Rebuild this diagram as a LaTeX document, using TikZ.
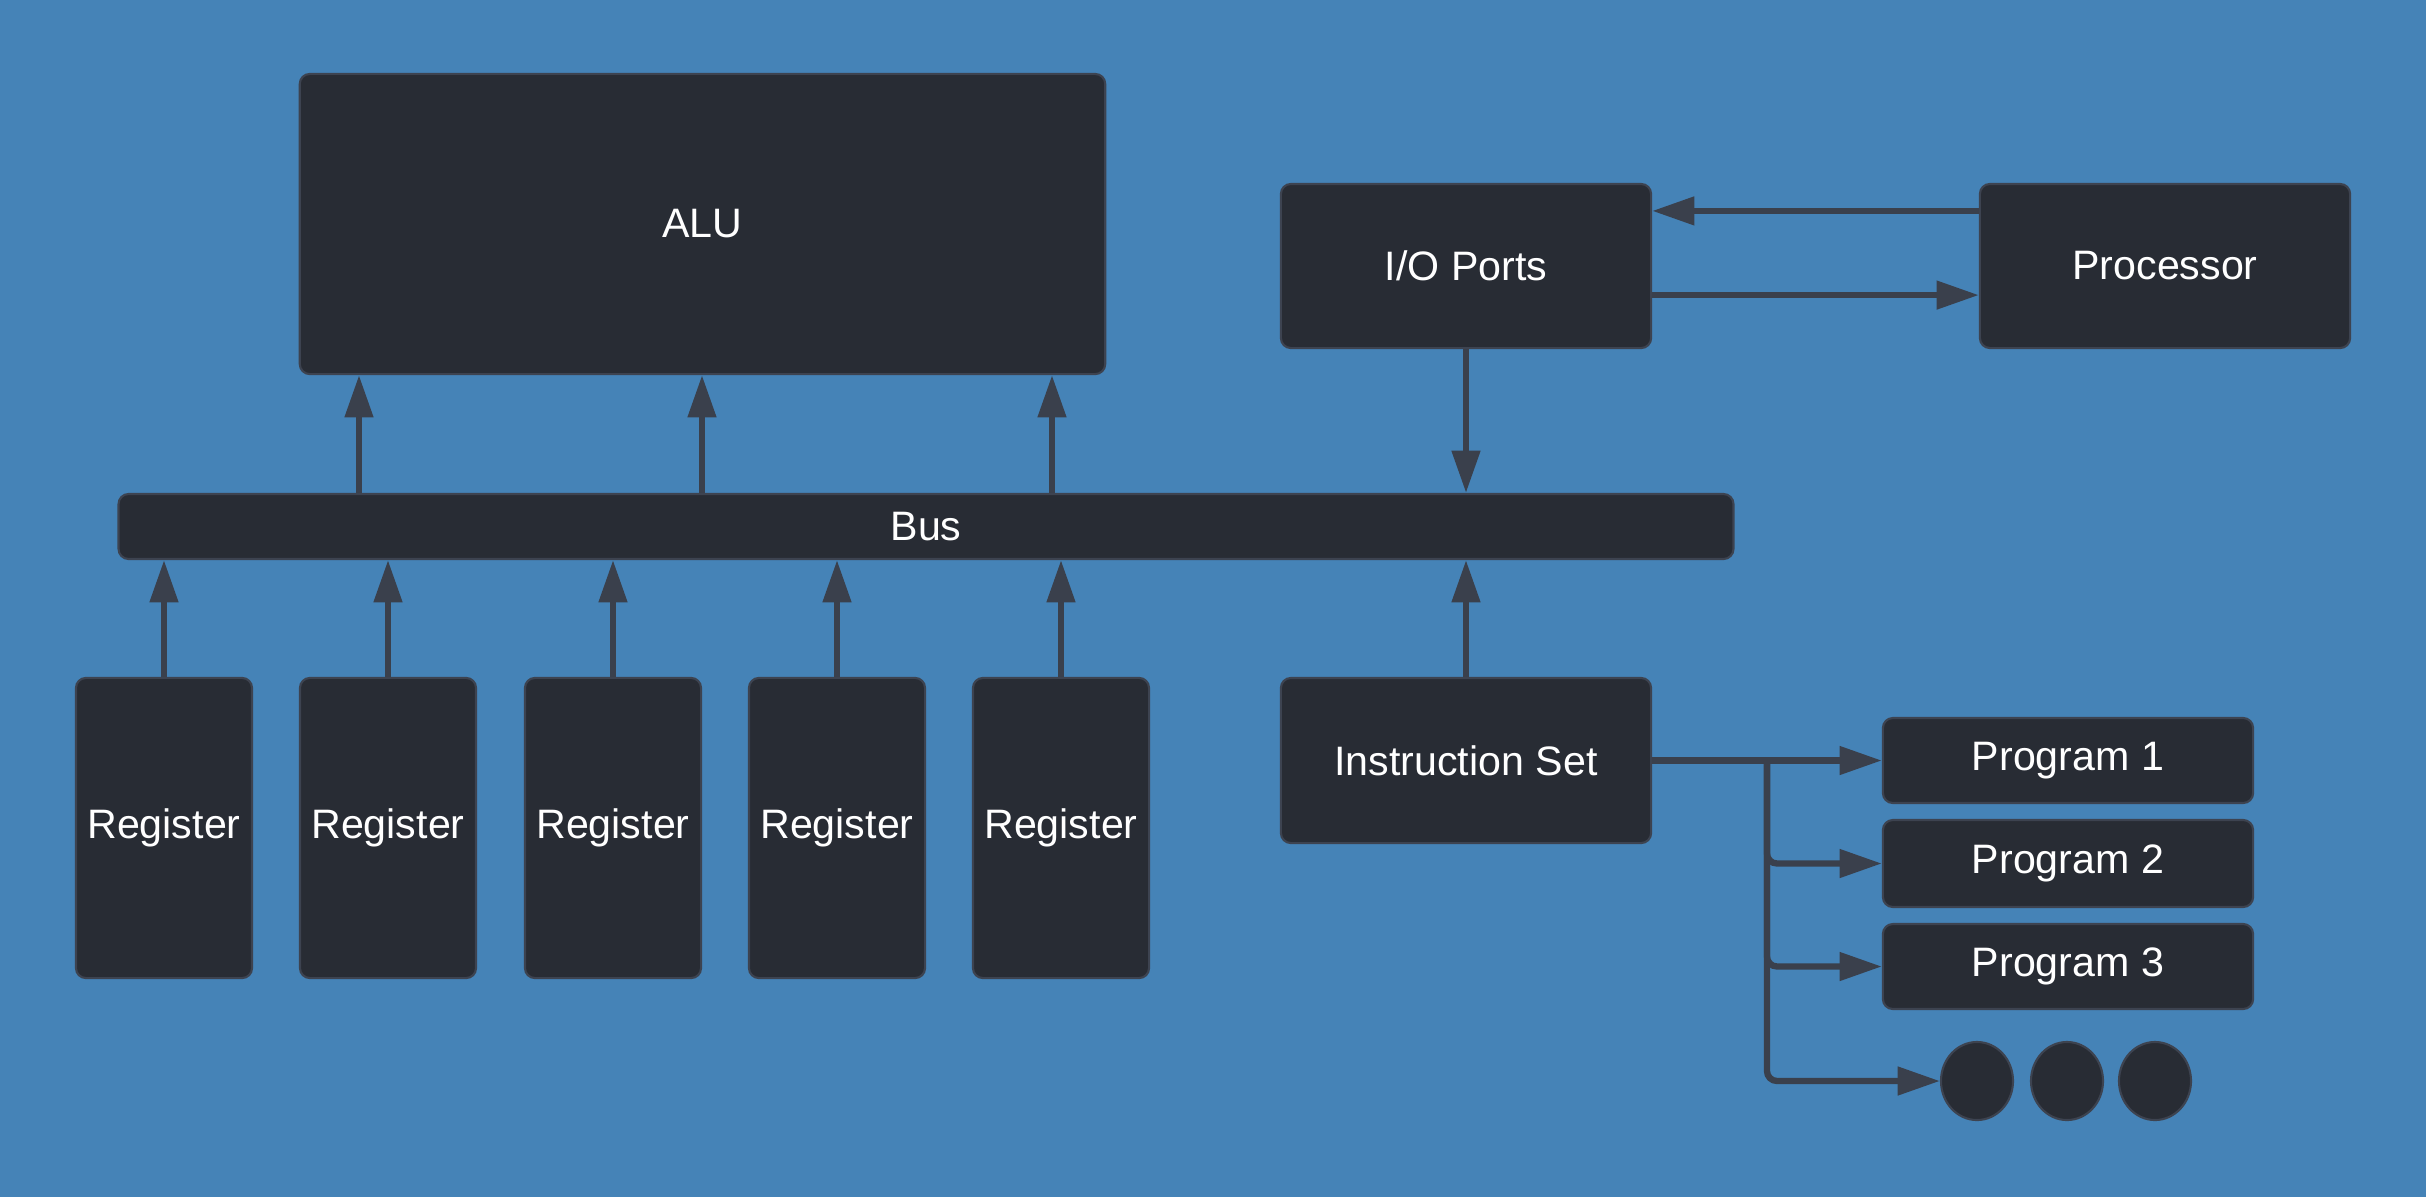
\documentclass[tikz,border=0pt]{standalone}
\usepackage{fontspec}
\setmainfont{Liberation Sans}
\usetikzlibrary{arrows.meta,shapes.geometric}
\definecolor{bgblue}{HTML}{4583B7}
\definecolor{boxfill}{HTML}{282C34}
\definecolor{boxline}{HTML}{3D4350}
\definecolor{arrowcol}{HTML}{3A404C}
\tikzset{
    box/.style={draw=boxline, line width=0.6pt, fill=boxfill, rounded corners=0.1cm,
        text=white, font=\fontsize{11.7}{14}\selectfont, inner sep=0pt},
    arr/.style={draw=arrowcol, line width=1.8pt, -{Triangle[length=12pt,width=7.8pt]}},
    dot/.style={draw=boxline, line width=0.6pt, fill=boxfill, ellipse, inner sep=0pt,
        minimum width=0.72cm, minimum height=0.78cm}
}
\begin{document}
    \begin{tikzpicture}[x=0.01cm,y=-0.01cm]
        \useasboundingbox (0,0) rectangle (2426,1196);
        \fill[bgblue] (-20,-20) rectangle (2446,1216);
        \node[box, minimum width=8.05cm, minimum height=3cm] (alu) at (702.5,224) {ALU};
        \node[box, minimum width=16.14cm, minimum height=0.65cm] (bus) at (926,526.5) {Bus};
        \foreach \x [count=\i] in {164,388,613,837,1061}
            \node[box, minimum width=1.76cm, minimum height=3cm] (reg\i) at (\x,828) {Register};
        \node[box, minimum width=3.7cm, minimum height=1.64cm] (io) at (1466,266) {I/O Ports};
        \node[box, minimum width=3.7cm, minimum height=1.64cm] (proc) at (2165,266) {Processor};
        \node[box, minimum width=3.7cm, minimum height=1.65cm] (iset) at (1466,760.5) {Instruction Set};
        \node[box, minimum width=3.7cm, minimum height=0.85cm] (prog1) at (2068,760.5) {Program 1};
        \node[box, minimum width=3.7cm, minimum height=0.87cm] (prog2) at (2068,863.5) {Program 2};
        \node[box, minimum width=3.7cm, minimum height=0.85cm] (prog3) at (2068,966.5) {Program 3};
        \node[dot] (dot1) at (1977,1081) {};
        \node[dot] (dot2) at (2067,1081) {};
        \node[dot] (dot3) at (2155,1081) {};
        \foreach \i in {1,...,5}
            \draw[arr] (reg\i.north) -- (reg\i.north |- bus.south);
        \foreach \x in {359,702,1052}
            \draw[arr] (\x,0 |- bus.north) -- (\x,0 |- alu.south);
        \draw[arr] ([yshift=-0.28cm]proc.north west) -- ([yshift=-0.28cm]proc.north west -| io.east);
        \draw[arr] ([yshift=0.54cm]io.south east) -- ([yshift=0.54cm]io.south east -| proc.west);
        \draw[arr] (io.south) -- (io.south |- bus.north);
        \draw[arr] (iset.north) -- (iset.north |- bus.south);
        \coordinate (fork) at (1767,760.5);
        \draw[arr] (iset.east) -- (prog1.west);
        \draw[arr, rounded corners=0.1cm] (fork) |- (prog2.west);
        \draw[arr, rounded corners=0.1cm] (fork) |- (prog3.west);
        \draw[arr, rounded corners=0.1cm] (fork) |- (dot1.west);
    \end{tikzpicture}
\end{document}
